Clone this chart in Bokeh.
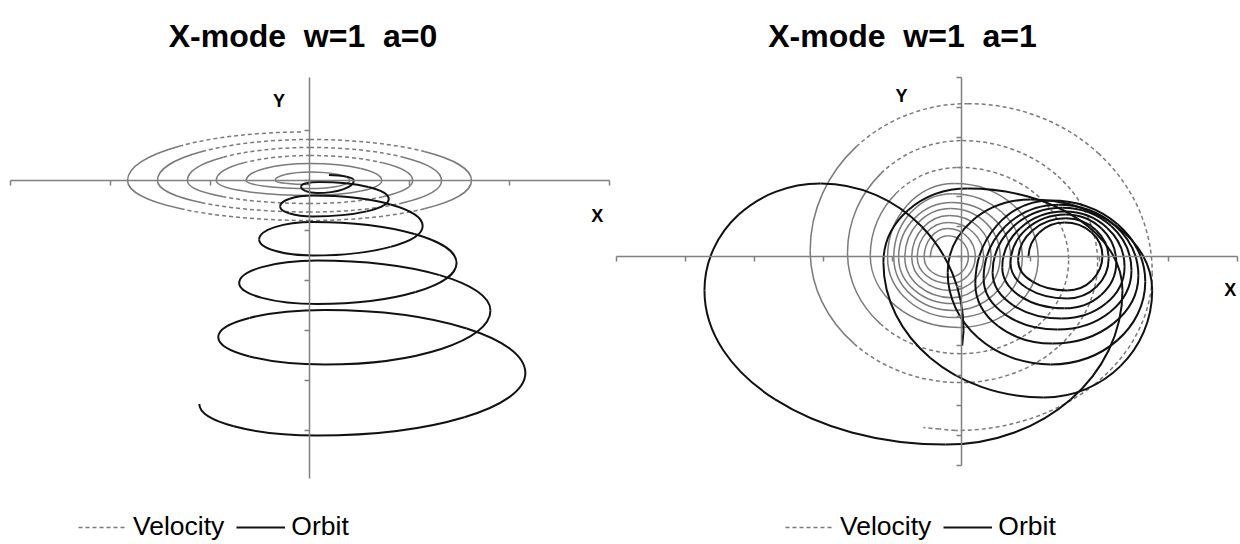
from bokeh.plotting import figure
from bokeh.layouts import row
from bokeh.models import (FixedTicker, Label, Legend, LegendItem, ColumnDataSource,
                          CustomLabelingPolicy)
from bokeh.embed import file_html
from bokeh.resources import INLINE

# ---------------- data (in axis-tick units) ----------------
# roles: L/R = left/right extreme (vertical tangent), T/B = top/bottom extreme
# (horizontal tangent), E = free end point
titles = ["X-mode \u00a0w=1 \u00a0a=0", "X-mode \u00a0w=1 \u00a0a=1"]
legend_labels = ["Velocity", "Orbit"]
axis_names = ["X", "Y"]

# panel a=0
x_ticks_a0 = [-3, -2, -1, 0, 1, 2, 3]
y_ticks_a0 = [-5, -4, -3, -2, -1, 0, 1]
x_bounds_a0 = (-3, 3)
y_bounds_a0 = (-5.96, 2.06)

vel_a0_role = "B" + "LTRB" * 5 + "LT"
vel_a0_x = [0.00, -0.35, 0.00, 0.40, 0.00, -0.64, 0.00, 0.72, 0.00, -0.94, 0.00, 1.03,
            0.00, -1.23, 0.00, 1.32, 0.00, -1.53, 0.00, 1.62, 0.00, -1.83, -0.06]
vel_a0_y = [-0.08, 0.00, 0.17, 0.00, -0.16, 0.00, 0.34, 0.00, -0.30, 0.00, 0.50, 0.00,
            -0.46, 0.00, 0.66, 0.00, -0.63, 0.00, 0.82, 0.00, -0.80, 0.00, 0.97]

orb_a0_role = "TRBL" * 6
orb_a0_x = [0.19, 0.44, 0.07, -0.09, 0.09, 0.79, 0.03, -0.30, 0.03, 1.13, 0.03, -0.51,
            0.03, 1.47, 0.07, -0.71, 0.07, 1.81, 0.15, -0.92, 0.15, 2.16, 0.07, -1.11]
orb_a0_y = [0.11, 0.00, -0.25, -0.12, -0.03, -0.37, -0.72, -0.52, -0.30, -0.91, -1.50, -1.18,
            -0.83, -1.65, -2.47, -2.05, -1.60, -2.60, -3.68, -3.13, -2.59, -3.85, -5.10, -4.47]

# panel a=1
x_ticks_a1 = [-5, -4, -3, -2, -1, 0, 1, 2, 3, 4]
y_ticks_a1 = [-7, -6, -5, -4, -3, -2, -1, 0, 1, 2, 3, 4, 5, 6]
x_bounds_a1 = (-5, 4)
y_bounds_a1 = (-7, 6)

vel_a1_role = "LTRB" * 11 + "E"
vel_a1_x = [-0.45, -0.20, 0.10, -0.19, -0.54, -0.20, 0.20, -0.17, -0.64, -0.19, 0.32, -0.16,
            -0.72, -0.17, 0.43, -0.14, -0.82, -0.16, 0.56, -0.13, -0.91, -0.14, 0.71, -0.12,
            -0.98, -0.13, 0.88, -0.09, -1.07, -0.10, 1.11, -0.04, -1.32, -0.04, 1.55, -0.01,
            -1.65, 0.01, 1.97, -0.01, -2.19, 0.09, 2.76, -0.09, -0.55]
vel_a1_y = [-0.03, 0.70, 0.00, -0.70, -0.03, 0.94, 0.00, -0.91, -0.03, 1.14, 0.00, -1.14,
            -0.03, 1.38, 0.00, -1.38, -0.03, 1.61, 0.00, -1.58, -0.03, 1.81, 0.00, -1.81,
            -0.03, 2.11, -0.03, -2.05, -0.03, 2.45, -0.07, -2.38, 0.03, 2.99, -0.13, -3.26,
            0.13, 3.89, -0.20, -4.23, 0.20, 5.13, -0.54, -5.84, -5.74]

orb_a1_role = "LTRB" * 9 + "LTR" + "E"
orb_a1_x = [0.97, 1.49, 2.04, 1.53, 0.82, 1.51, 2.13, 1.53, 0.71, 1.51, 2.24, 1.49,
            0.59, 1.49, 2.36, 1.45, 0.45, 1.46, 2.46, 1.39, 0.32, 1.40, 2.56, 1.32,
            0.20, 1.29, 2.66, 1.29, -0.20, 1.00, 2.76, 1.19, -1.13, 0.09, 2.33, -0.23,
            -3.72, -2.04, 0.03, 0.01]
orb_a1_y = [-0.03, 1.14, 0.03, -1.14, -0.13, 1.28, -0.07, -1.41, -0.23, 1.41, -0.20, -1.74,
            -0.37, 1.51, -0.34, -2.08, -0.54, 1.64, -0.47, -2.45, -0.74, 1.74, -0.64, -2.92,
            -0.91, 1.88, -0.84, -3.62, -0.54, 1.91, -1.14, -4.73, -0.20, 2.28, -1.14, -6.31,
            -1.14, 2.45, -2.48, -2.99]

# ---------------- styles ----------------
FONT = "Liberation Sans"
AXIS_COLOR = "#808080"
VEL_COLOR = "#7a7a7a"
ORB_COLOR = "#111111"
DASH = "4 3"
K = 0.5523  # quarter-ellipse control factor

NO_LABELS = CustomLabelingPolicy(code="""
try { return new indices.constructor(indices.size) } catch (e) {}
try { for (const i of Array.from(indices.ones())) indices.unset(i) } catch (e) {}
return indices
""")


def mid(a, b):
    return ((a[0] + b[0]) / 2.0, (a[1] + b[1]) / 2.0)


def bezier_sources(xs, ys, roles, is_dashed):
    keys = ("x0", "y0", "x1", "y1", "cx0", "cy0", "cx1", "cy1")
    solid = {k: [] for k in keys}
    dashed = {k: [] for k in keys}
    for i in range(len(xs) - 1):
        x0, y0, x1, y1 = xs[i], ys[i], xs[i + 1], ys[i + 1]
        r0, r1 = roles[i], roles[i + 1]
        v0, v1 = r0 in "LR", r1 in "LR"
        if "E" in (r0, r1) or v0 == v1:
            c0 = (x0 + (x1 - x0) / 3.0, y0 + (y1 - y0) / 3.0)
            c1 = (x0 + 2 * (x1 - x0) / 3.0, y0 + 2 * (y1 - y0) / 3.0)
        elif v0:
            c0 = (x0, y0 + K * (y1 - y0))
            c1 = (x1 + K * (x0 - x1), y1)
        else:
            c0 = (x0 + K * (x1 - x0), y0)
            c1 = (x1, y1 + K * (y0 - y1))
        p0, p3 = (x0, y0), (x1, y1)
        m01, m12, m23 = mid(p0, c0), mid(c0, c1), mid(c1, p3)
        a, b = mid(m01, m12), mid(m12, m23)
        m = mid(a, b)
        for q0, q1, q2, q3, j in ((p0, m01, a, m, i), (m, b, m23, p3, i + 1)):
            tgt = dashed if is_dashed(j, roles[j]) else solid
            tgt["x0"].append(q0[0]); tgt["y0"].append(q0[1])
            tgt["cx0"].append(q1[0]); tgt["cy0"].append(q1[1])
            tgt["cx1"].append(q2[0]); tgt["cy1"].append(q2[1])
            tgt["x1"].append(q3[0]); tgt["y1"].append(q3[1])
    return ColumnDataSource(solid), ColumnDataSource(dashed)


def draw(p, src, color, width, dash="solid"):
    return p.bezier(x0="x0", y0="y0", x1="x1", y1="y1", cx0="cx0", cy0="cy0",
                    cx1="cx1", cy1="cy1", source=src, line_color=color,
                    line_width=width, line_dash=dash)


def make_fig(width, x_range, y_range):
    p = figure(width=width, height=544, x_range=x_range, y_range=y_range,
               output_backend="svg", toolbar_location=None, tools="", title=None,
               min_border_left=0, min_border_right=0, min_border_top=0, min_border_bottom=0)
    p.xgrid.visible = False
    p.ygrid.visible = False
    p.outline_line_color = None
    return p


def style_axes(p, xt, yt, xb, yb):
    p.xaxis.fixed_location = 0
    p.yaxis.fixed_location = 0
    p.xaxis.ticker = FixedTicker(ticks=xt)
    p.yaxis.ticker = FixedTicker(ticks=yt)
    p.xaxis.bounds = xb
    p.yaxis.bounds = yb
    for ax in (p.xaxis, p.yaxis):
        ax.axis_line_color = AXIS_COLOR
        ax.axis_line_width = 1.5
        ax.major_tick_line_color = AXIS_COLOR
        ax.major_tick_line_width = 1.5
        ax.major_tick_out = 5
        ax.major_tick_in = 0
        ax.minor_tick_line_color = None
        ax.major_label_policy = NO_LABELS
        ax.major_label_text_font_size = "0px"
        ax.major_label_standoff = 0


def add_text(p, x, y, text, size):
    p.add_layout(Label(x=x, y=y, text=text, text_font=FONT, text_font_size=size,
                       text_font_style="bold", text_color="black",
                       text_align="center", text_baseline="alphabetic"))


def add_legend(p, vel_r, orb_r, loc):
    leg = Legend(items=[LegendItem(label=legend_labels[0], renderers=[vel_r]),
                        LegendItem(label=legend_labels[1], renderers=[orb_r])],
                 location=loc, orientation="horizontal",
                 label_text_font=FONT, label_text_font_size="26.5px",
                 label_text_color="black",
                 glyph_width=49, glyph_height=26, label_height=26,
                 label_standoff=6, spacing=12, padding=0, margin=0,
                 border_line_color=None, background_fill_alpha=0)
    p.add_layout(leg, "center")


# ---------------- panel a=0 (page x 0..612, origin at (309.5, 180), 99.7 x 50 px/unit) ----
p1 = make_fig(612, (-3.104, 3.034), (-7.28, 3.60))
style_axes(p1, x_ticks_a0, y_ticks_a0, x_bounds_a0, y_bounds_a0)

vs, vd = bezier_sources(vel_a0_x, vel_a0_y, vel_a0_role, lambda j, r: r in "TB" and j >= 10)
draw(p1, vs, VEL_COLOR, 1.5)
vel1 = draw(p1, vd, VEL_COLOR, 1.5, DASH)
os1, _ = bezier_sources(orb_a0_x, orb_a0_y, orb_a0_role, lambda j, r: False)
orb1 = draw(p1, os1, ORB_COLOR, 2)

add_text(p1, -0.07, 2.90, titles[0], "32px")
add_text(p1, 2.88, -0.70, axis_names[0], "18px")
add_text(p1, -0.31, 1.60, axis_names[1], "18px")
add_legend(p1, vel1, orb1, (78, 2))

# ---------------- panel a=1 (page x 612..1240, origin at (961, 256), 69.1 x 29.8 px/unit) --
p2 = make_fig(628, (-5.051, 4.038), (-9.664, 8.591))
style_axes(p2, x_ticks_a1, y_ticks_a1, x_bounds_a1, y_bounds_a1)

vs2, vd2 = bezier_sources(vel_a1_x, vel_a1_y, vel_a1_role, lambda j, r: r != "L" and j >= 33)
draw(p2, vs2, VEL_COLOR, 1.5)
vel2 = draw(p2, vd2, VEL_COLOR, 1.5, DASH)
os2, _ = bezier_sources(orb_a1_x, orb_a1_y, orb_a1_role, lambda j, r: False)
orb2 = draw(p2, os2, ORB_COLOR, 2)

add_text(p2, -0.854, 7.416, titles[1], "32px")
add_text(p2, 3.89, -1.11, axis_names[0], "18px")
add_text(p2, -0.87, 5.37, axis_names[1], "18px")
add_legend(p2, vel2, orb2, (173, 2))

layout = row(p1, p2)
open("out.html", "w").write(file_html(layout, INLINE))
